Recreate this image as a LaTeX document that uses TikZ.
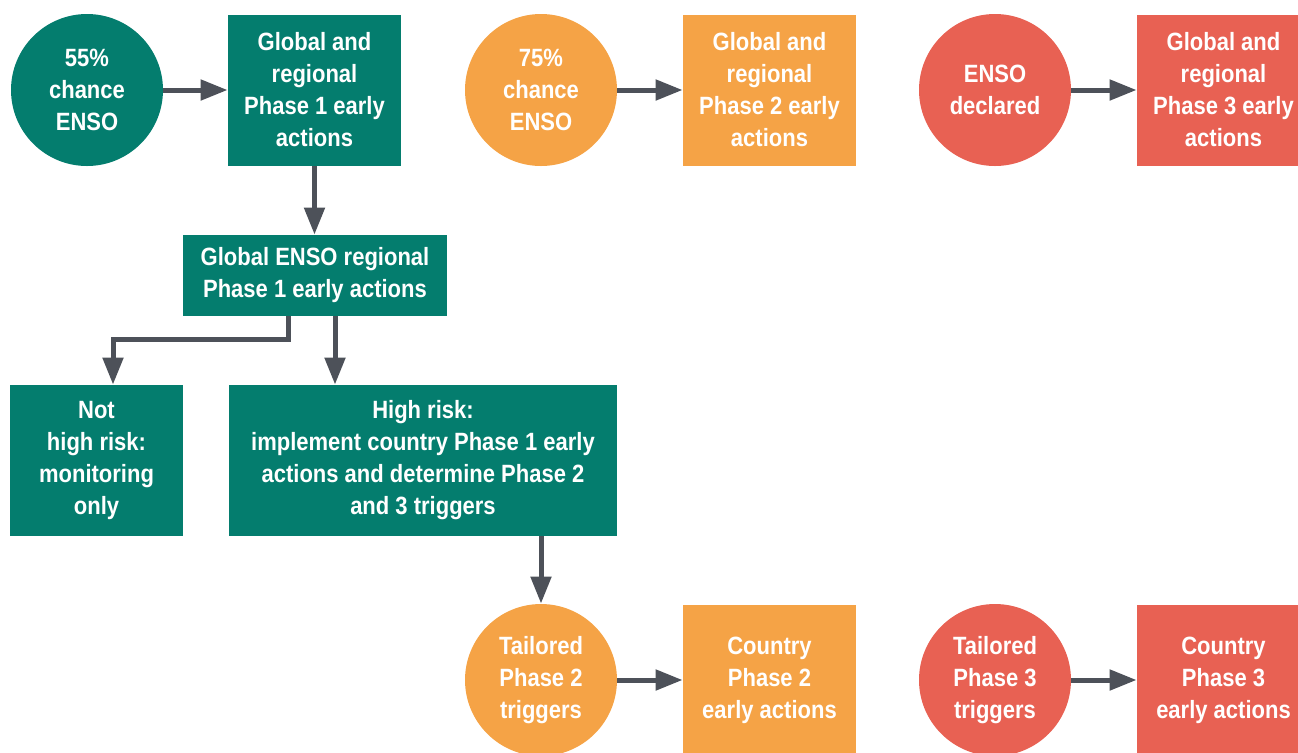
\documentclass[tikz,border=0pt]{standalone}
\usepackage{fontspec}
\setmainfont{Liberation Sans}[FakeStretch=0.88]
\usetikzlibrary{arrows.meta}

\definecolor{ensoteal}{RGB}{4,125,110}
\definecolor{ensoorange}{RGB}{245,163,70}
\definecolor{ensored}{RGB}{232,97,83}
\definecolor{arrowgrey}{RGB}{77,81,89}

\tikzset{
	phase/.style={rectangle, fill=#1, text=white, font=\bfseries\fontsize{12.5}{16}\selectfont,
		align=center, minimum width=86.5pt, minimum height=75.5pt, inner sep=0pt},
	chance/.style={circle, fill=#1, text=white, font=\bfseries\fontsize{12.5}{16}\selectfont,
		align=center, minimum size=76pt, inner sep=0pt},
	flow/.style={-{Triangle[length=13.5pt,width=10pt]}, line width=2.5pt, draw=arrowgrey},
}

\begin{document}
\begin{tikzpicture}[x=0.5pt,y=-0.5pt]
			\clip (0,0) rectangle (1298,752);
			% top row
			\node[chance=ensoteal] (chance55) at (87,90) {55\%\\chance\\ENSO};
			\node[phase=ensoteal] (global1) at (314.5,90) {Global and\\regional\\Phase 1 early\\actions};
			\node[chance=ensoorange] (chance75) at (541,90) {75\%\\chance\\ENSO};
			\node[phase=ensoorange] (global2) at (769.5,90) {Global and\\regional\\Phase 2 early\\actions};
			\node[chance=ensored] (declared) at (995,90) {ENSO\\declared};
			\node[phase=ensored] (global3) at (1223.5,90) {Global and\\regional\\Phase 3 early\\actions};
			% phase 1 branch
			\node[phase=ensoteal, minimum width=132pt, minimum height=40.5pt] (regional1) at (315,275.5) {Global ENSO regional\\Phase 1 early actions};
			\node[phase=ensoteal] (nothigh) at (96.5,460.5) {Not\\high risk:\\monitoring\\only};
			\node[phase=ensoteal, minimum width=194pt] (highrisk) at (423,460.5) {High risk:\\implement country Phase 1 early\\actions and determine Phase 2\\and 3 triggers};
			% bottom row
			\node[chance=ensoorange] (trig2) at (541,680) {Tailored\\Phase 2\\triggers};
			\node[phase=ensoorange] (country2) at (769.5,680) {Country\\Phase 2\\early actions};
			\node[chance=ensored] (trig3) at (995,680) {Tailored\\Phase 3\\triggers};
			\node[phase=ensored] (country3) at (1223.5,680) {Country\\Phase 3\\early actions};
			% arrows
			\draw[flow] (chance55) -- (global1);
			\draw[flow] (chance75) -- (global2);
			\draw[flow] (declared) -- (global3);
			\draw[flow] (global1.south) -- (global1.south |- regional1.north);
			\draw[flow] ([xshift=-13.5pt]regional1.south) -- ++(0,23) -| ([xshift=8.25pt]nothigh.north);
			\draw[flow] ([xshift=10pt]regional1.south) -- ([xshift=10pt]regional1.south |- highrisk.north);
			\draw[flow] (trig2.north |- highrisk.south) -- (trig2);
			\draw[flow] (trig2) -- (country2);
			\draw[flow] (trig3) -- (country3);
		\end{tikzpicture}
\end{document}
